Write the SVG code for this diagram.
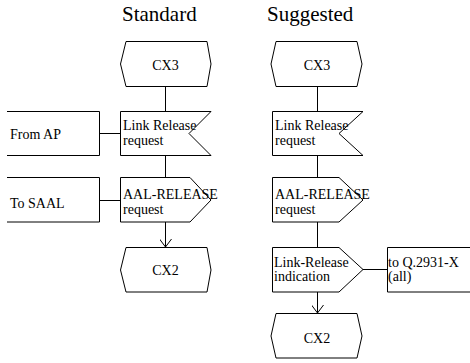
<svg xmlns="http://www.w3.org/2000/svg" width="470" height="363" viewBox="0 0 470 363">
  <style>
    .shape { fill: #ffffff; stroke: #000000; stroke-width: 1; }
    .line { fill: none; stroke: #000000; stroke-width: 1; }
    text { font-family: 'Liberation Serif', 'Times New Roman', Times, serif; fill: #000000; }
    .title { font-size: 21px; }
    .label { font-size: 14px; }
    .mid { text-anchor: middle; }
  </style>
  <defs>
    <marker id="openArrow" markerWidth="16" markerHeight="12" refX="14" refY="6" orient="auto" markerUnits="userSpaceOnUse">
      <path d="M6,0 L14,6 L6,12" fill="none" stroke="#000000" stroke-width="1"/>
    </marker>
  </defs>

  <rect x="0" y="0" width="470" height="363" fill="#ffffff"/>

  <!-- column headings -->
  <text class="title" x="122" y="21" font-family="Liberation Serif">Standard</text>
  <text class="title" x="267" y="21" font-family="Liberation Serif">Suggested</text>

  <!-- connectors -->
  <g id="connectors">
    <line class="line" x1="165.5" y1="87" x2="165.5" y2="111"/>
    <line class="line" x1="99" y1="133.5" x2="120" y2="133.5"/>
    <line class="line" x1="165.5" y1="155" x2="165.5" y2="177"/>
    <line class="line" x1="99" y1="200.5" x2="120" y2="200.5"/>
    <line class="line" x1="165.5" y1="222" x2="165.5" y2="247" marker-end="url(#openArrow)"/>

    <line class="line" x1="317.5" y1="87" x2="317.5" y2="111"/>
    <line class="line" x1="317.5" y1="155" x2="317.5" y2="177"/>
    <line class="line" x1="317.5" y1="222" x2="317.5" y2="247"/>
    <line class="line" x1="363" y1="269.5" x2="387" y2="269.5"/>
    <line class="line" x1="317.5" y1="292" x2="317.5" y2="313" marker-end="url(#openArrow)"/>
  </g>

  <g font-family="Liberation Serif">
  <!-- Standard column -->
  <g id="std-cx3">
    <polygon class="shape" points="126,41.5 207,41.5 211,64 207,86.5 126,86.5 120.5,64"/>
    <text class="label mid" x="165.5" y="69.5">CX3</text>
  </g>
  <g id="std-from-ap">
    <path class="line" d="M7,111.5 H99.5 V155.5 H7"/>
    <text class="label" x="10" y="138.5">From AP</text>
  </g>
  <g id="std-link-release-request">
    <polygon class="shape" points="120.5,111.5 211,111.5 189,133.5 211,155.5 120.5,155.5"/>
    <text class="label" x="123" y="130">Link Release</text>
    <text class="label" x="123" y="145">request</text>
  </g>
  <g id="std-to-saal">
    <path class="line" d="M7,177.5 H99.5 V222 H7"/>
    <text class="label" x="10" y="207.5">To SAAL</text>
  </g>
  <g id="std-aal-release-request">
    <polygon class="shape" points="120.5,177.5 190,177.5 211,200 190,222 120.5,222"/>
    <text class="label" x="123" y="199">AAL-RELEASE</text>
    <text class="label" x="123" y="213.5">request</text>
  </g>
  <g id="std-cx2">
    <polygon class="shape" points="126,247.5 207,247.5 211,270 207,292 126,292 120.5,270"/>
    <text class="label mid" x="165.5" y="275">CX2</text>
  </g>

  <!-- Suggested column -->
  <g id="sug-cx3">
    <polygon class="shape" points="276,41.5 357,41.5 362,64 357,86.5 276,86.5 271,64"/>
    <text class="label mid" x="317" y="69.5">CX3</text>
  </g>
  <g id="sug-link-release-request">
    <polygon class="shape" points="272.5,111.5 363,111.5 339,133.5 363,155.5 272.5,155.5"/>
    <text class="label" x="275" y="130">Link Release</text>
    <text class="label" x="275" y="145">request</text>
  </g>
  <g id="sug-aal-release-request">
    <polygon class="shape" points="272.5,177.5 339,177.5 363,200 339,222 272.5,222"/>
    <text class="label" x="275" y="199">AAL-RELEASE</text>
    <text class="label" x="275" y="213.5">request</text>
  </g>
  <g id="sug-link-release-indication">
    <polygon class="shape" points="272.5,247.5 339,247.5 363,269.5 339,292 272.5,292"/>
    <text class="label" x="274" y="266.5">Link-Release</text>
    <text class="label" x="274" y="280.5">indication</text>
  </g>
  <g id="sug-to-q2931">
    <path class="line" d="M471,247.5 H387.5 V292 H471"/>
    <text class="label" x="388" y="266.5">to Q.2931-X</text>
    <text class="label" x="388" y="280.5">(all)</text>
  </g>
  <g id="sug-cx2">
    <polygon class="shape" points="276,313.5 357,313.5 362,336 357,358 276,358 271,336"/>
    <text class="label mid" x="317" y="343">CX2</text>
  </g>
  </g>
</svg>
